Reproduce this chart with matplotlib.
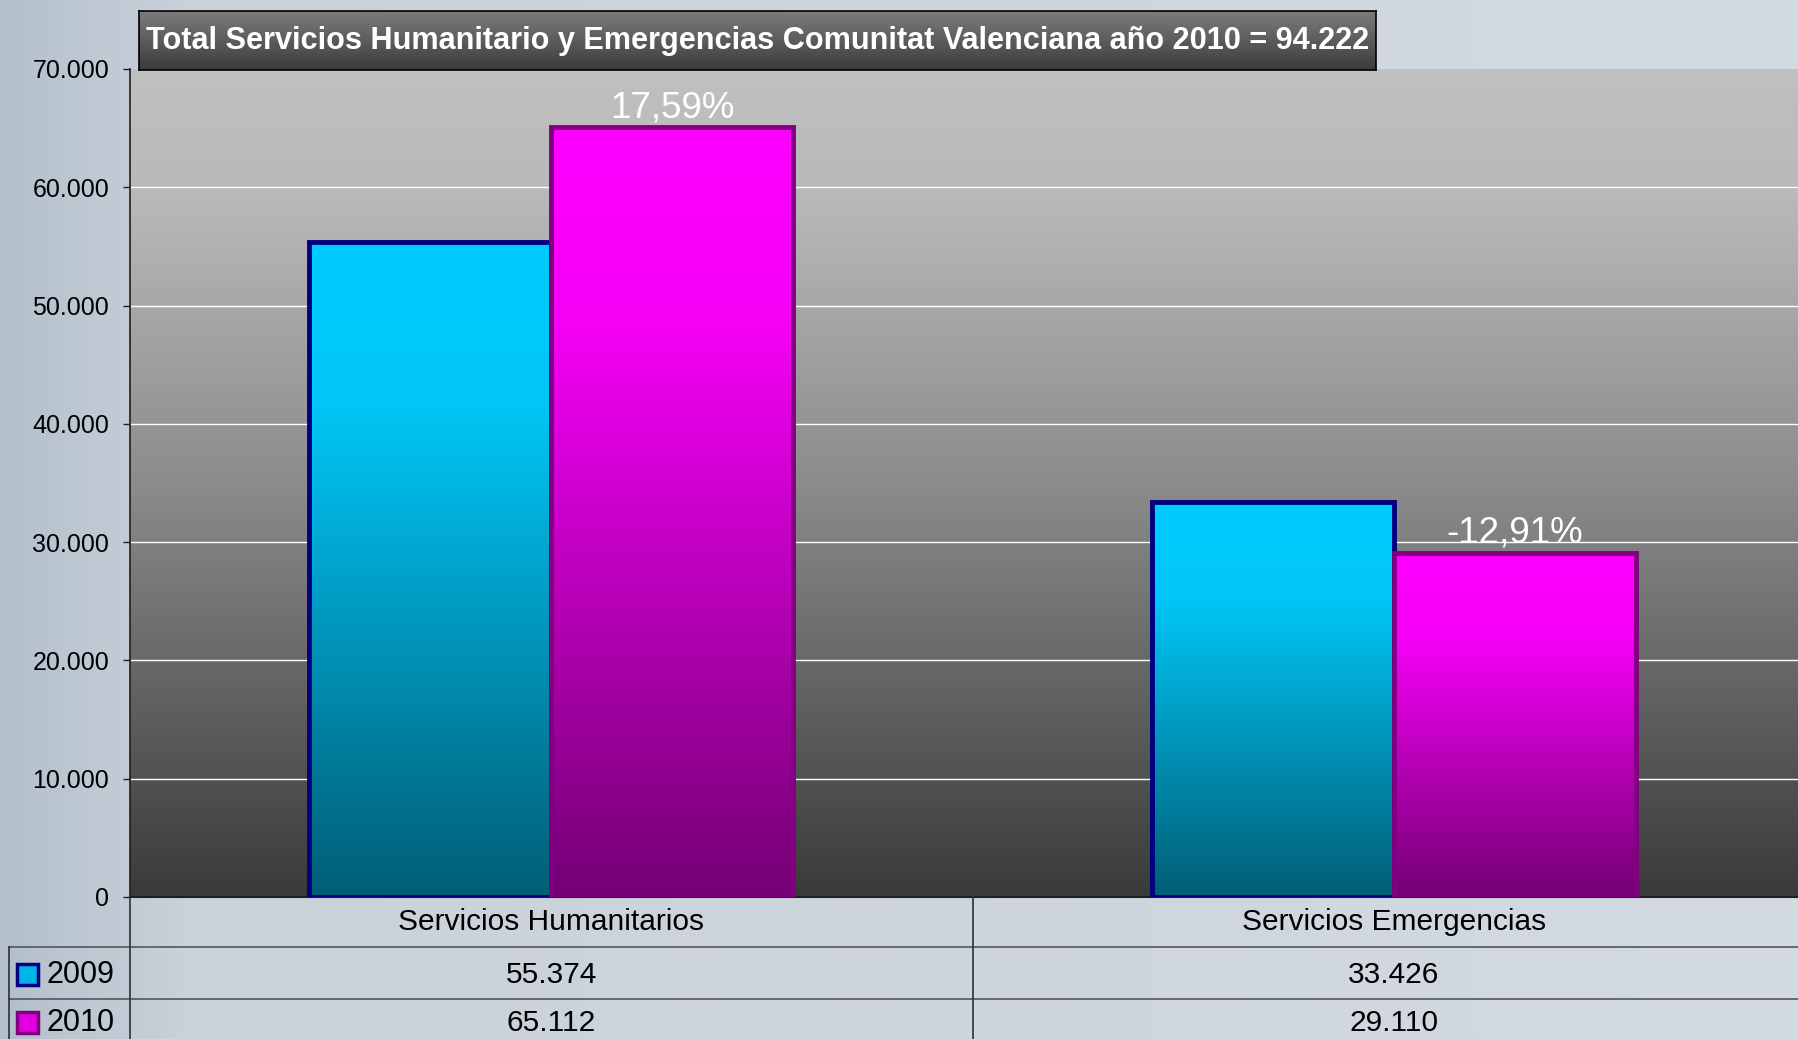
import numpy as np
import matplotlib
matplotlib.use('Agg')
import matplotlib.pyplot as plt
from matplotlib.colors import LinearSegmentedColormap
from matplotlib.patches import Rectangle
from matplotlib.lines import Line2D
from matplotlib.transforms import blended_transform_factory

categories = ['Servicios Humanitarios', 'Servicios Emergencias']
series_names = ['2009', '2010']
values_2009 = [55374, 33426]
values_2010 = [65112, 29110]
change_labels = ['17,59%', '-12,91%']
y_ticks = [0, 10000, 20000, 30000, 40000, 50000, 60000, 70000]
title = 'Total Servicios Humanitario y Emergencias Comunitat Valenciana año 2010 = 94.222'


def fmt(v):
    return f'{v:,}'.replace(',', '.')


plt.rcParams['font.family'] = ['Liberation Sans', 'DejaVu Sans']

W, H = 1798, 1039
fig = plt.figure(figsize=(W / 100, H / 100), dpi=100)


def fx(px):
    return px / W


def fy(px):
    return 1 - px / H


# figure background (light blue-grey)
bg = fig.add_axes([0, 0, 1, 1], zorder=-10)
bg.axis('off')
bg_cmap = LinearSegmentedColormap.from_list('bg', [(0, '#b3c0cc'), (0.1, '#c9d1d9'), (1, '#d3dae1')])
bg.imshow(np.linspace(0, 1, 256)[None, :], cmap=bg_cmap, aspect='auto', extent=[0, 1, 0, 1])
bg.set_xlim(0, 1)
bg.set_ylim(0, 1)

# main plot area
left, right, top, bottom = 130, 1815, 69, 897
ax = fig.add_axes([fx(left), fy(bottom), fx(right - left), (bottom - top) / H])

plot_cmap = LinearSegmentedColormap.from_list(
    'plot', [(0, '#3a3a3a'), (0.5, '#8c8c8c'), (0.85, '#b9b9b9'), (1, '#c0c0c0')])
ax.imshow(np.linspace(0, 1, 256)[:, None], cmap=plot_cmap, origin='lower', aspect='auto',
          extent=[-0.5, 1.5, 0, 70000], zorder=0)

for t in y_ticks[1:-1]:
    ax.axhline(t, color='white', lw=1, zorder=1)

x = np.arange(len(categories))
bw = 0.287
grad = np.linspace(0, 1, 256)[:, None]
cyan_cmap = LinearSegmentedColormap.from_list('c', [(0, '#005e76'), (0.75, '#00c6f6'), (1, '#00ccff')])
mag_cmap = LinearSegmentedColormap.from_list('m', [(0, '#740074'), (0.75, '#f600f6'), (1, '#ff00ff')])

series = [
    (values_2009, -bw / 2, cyan_cmap, '#000080', 3),
    (values_2010, bw / 2, mag_cmap, '#800080', 4),
]
for vals, offs, cmap, ec, z in series:
    bars = ax.bar(x + offs, vals, bw, facecolor='none', edgecolor=ec, linewidth=3.5, zorder=z + 0.5)
    for b in bars:
        ax.imshow(grad, cmap=cmap, origin='lower', aspect='auto', zorder=z,
                  extent=[b.get_x(), b.get_x() + b.get_width(), 0, b.get_height()])

for xi, v, lab in zip(x, values_2010, change_labels):
    ax.annotate(lab, (xi + bw / 2, v), xytext=(0, 7), textcoords='offset points',
                ha='center', va='baseline', color='white', fontsize=26.5, zorder=6)

ax.set_xlim(-0.5, 1.5)
ax.set_ylim(0, 70000)
ax.set_xticks([])
ax.set_yticks(y_ticks)
ax.set_yticklabels([fmt(t) for t in y_ticks])
ax.tick_params(axis='y', length=5, width=1, color='#202020', pad=10, labelsize=18, labelcolor='black')
for s in ['top', 'right']:
    ax.spines[s].set_visible(False)
ax.spines['left'].set_color('#202020')
ax.spines['left'].set_linewidth(1.2)
ax.spines['bottom'].set_color('#202020')
ax.spines['bottom'].set_linewidth(1.5)

# title box
tax = fig.add_axes([fx(139), fy(70), fx(1376 - 139), (70 - 11) / H])
title_cmap = LinearSegmentedColormap.from_list('t', [(0, '#3c3c3c'), (1, '#7c7c7c')])
tax.imshow(np.linspace(0, 1, 64)[:, None], cmap=title_cmap, origin='lower', aspect='auto', extent=[0, 1, 0, 1])
tax.set_xlim(0, 1)
tax.set_ylim(0, 1)
tax.set_xticks([])
tax.set_yticks([])
for s in tax.spines.values():
    s.set_color('black')
    s.set_linewidth(1.2)
tax.text(0.5, 0.5, title, ha='center', va='center', color='white', fontsize=22.1, fontweight='bold')

# data table under the plot
tr = blended_transform_factory(ax.transData, fig.transFigure)
line_color = '#555555'
fig.add_artist(Line2D([fx(9), 1], [fy(947), fy(947)], transform=fig.transFigure, color=line_color, lw=1.2))
fig.add_artist(Line2D([fx(9), 1], [fy(999), fy(999)], transform=fig.transFigure, color=line_color, lw=1.2))
fig.add_artist(Line2D([fx(9), fx(9)], [fy(947), 0], transform=fig.transFigure, color='#303030', lw=1.2))
fig.add_artist(Line2D([fx(left), fx(left)], [fy(897), 0], transform=fig.transFigure, color='#303030', lw=1.2))
fig.add_artist(Line2D([0.5, 0.5], [fy(897), 0], transform=tr, color='#303030', lw=1.2))

for xi, cat in zip(x, categories):
    fig.text(xi, fy(922), cat, transform=tr, ha='center', va='center', fontsize=21.5, color='black')

row_y = [975, 1023]
key_fill = ['#00b4e4', '#e000e0']
key_edge = ['#000080', '#800080']
for name, vals, ry, kf, ke in zip(series_names, [values_2009, values_2010], row_y, key_fill, key_edge):
    fig.add_artist(Rectangle((fx(17), fy(ry + 10)), fx(21), 21 / H, transform=fig.transFigure,
                             facecolor=kf, edgecolor=ke, lw=2.5))
    fig.text(fx(46), fy(ry), name, ha='left', va='center', fontsize=22, color='black')
    for xi, v in zip(x, vals):
        fig.text(xi, fy(ry), fmt(v), transform=tr, ha='center', va='center', fontsize=21.5, color='black')

fig.savefig('out.png', dpi=100)
